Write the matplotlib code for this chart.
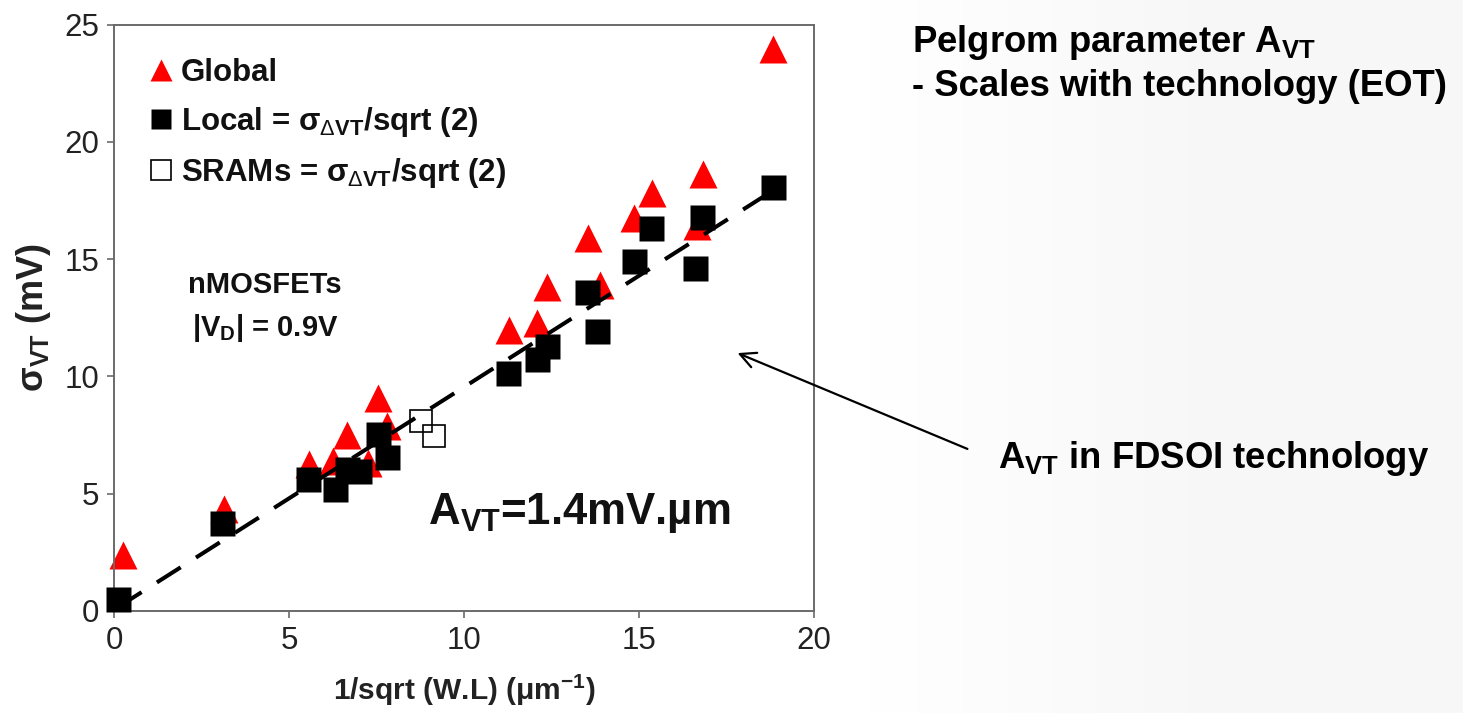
import matplotlib
matplotlib.use('Agg')
import numpy as np
import matplotlib.pyplot as plt
from matplotlib.lines import Line2D

plt.rcParams['font.family'] = ['Liberation Sans', 'DejaVu Sans']
plt.rcParams['mathtext.fontset'] = 'custom'
plt.rcParams['mathtext.rm'] = 'Liberation Sans'
plt.rcParams['mathtext.it'] = 'Liberation Sans'
plt.rcParams['mathtext.bf'] = 'Liberation Sans:bold'

# ---- data ----
global_x = [0.24, 3.13, 5.57, 6.25, 6.64, 7.25, 7.54, 7.78, 11.29, 12.07, 12.37,
            13.54, 13.88, 14.85, 15.35, 16.64, 16.83, 18.83]
global_y = [2.38, 4.36, 6.25, 6.40, 7.50, 6.30, 9.08, 7.90, 11.98, 12.27, 13.80,
            15.89, 13.90, 16.75, 17.83, 16.43, 18.64, 23.97]

local_x = [0.10, 3.09, 5.54, 6.31, 6.64, 7.00, 7.54, 7.78, 11.24, 12.07, 12.35,
           13.50, 13.80, 14.85, 15.34, 16.80, 16.60, 18.81]
local_y = [0.50, 3.73, 5.63, 5.19, 6.04, 5.97, 7.53, 6.54, 10.13, 10.73, 11.31,
           13.58, 11.95, 14.93, 16.32, 16.78, 14.61, 18.08]

sram_x = [8.76, 9.13]
sram_y = [8.09, 7.46]

fit_slope = 0.95
fit_intercept = 0.05
fit_range = [0.1, 18.8]

x_ticks = [0, 5, 10, 15, 20]
y_ticks = [0, 5, 10, 15, 20, 25]

W, H = 1463, 713
fig = plt.figure(figsize=(W / 100, H / 100), dpi=100)
fig.patch.set_facecolor('white')

# faint slide background on the right
bg = fig.add_axes([0, 0, 1, 1], zorder=-10)
bg.set_axis_off()
grad = np.linspace(0, 1, 400)
bg.imshow(np.clip((grad[None, :] - 0.58) / 0.25, 0, 1) * np.ones((10, 1)),
          extent=[0, 1, 0, 1], aspect='auto', cmap='Greys', vmin=0, vmax=16,
          origin='lower')
bg.set_xlim(0, 1)
bg.set_ylim(0, 1)

ax = fig.add_axes([114.3 / W, 1 - 610.7 / H, 700 / W, 585.9 / H])
ax.set_xlim(0, 20)
ax.set_ylim(0, 25)

ax.plot(global_x, global_y, ls='none', marker='^', ms=19.5, color='#ff0000',
        mec='none', zorder=2, clip_on=False)
fx = np.array(fit_range)
ax.plot(fx, fit_slope * fx + fit_intercept, color='black', lw=2.9,
        dashes=(7, 4.5), zorder=3)
ax.plot(local_x, local_y, ls='none', marker='s', ms=18, color='black',
        mec='none', zorder=4, clip_on=False)
ax.plot(sram_x, sram_y, ls='none', marker='s', ms=16.5, mfc='none',
        mec='black', mew=1.2, zorder=5)

spine_c = '#6a6a6a'
for s in ax.spines.values():
    s.set_color(spine_c)
    s.set_linewidth(1.4)
ax.set_xticks(x_ticks)
ax.set_yticks(y_ticks)
ax.tick_params(direction='out', length=5, width=1.2, color=spine_c,
               labelsize=22.5, pad=6, labelcolor='#222222')

ax.set_xlabel(r'1/sqrt (W.L) ($\mathregular{\mu}$m$^{\mathbf{-1}}$)',
              fontsize=21.5, fontweight='bold', labelpad=12, color='#222222')
ax.set_ylabel(r'$\mathregular{\sigma}_{\mathbf{VT}}$ (mV)', fontsize=26,
              fontweight='bold', labelpad=8, color='#222222')

handles = [
    Line2D([], [], ls='none', marker='^', ms=16.5, color='#ff0000', mec='none'),
    Line2D([], [], ls='none', marker='s', ms=14.5, color='black', mec='none'),
    Line2D([], [], ls='none', marker='s', ms=14.5, mfc='none', mec='black', mew=1.2),
]
labels = ['Global',
          r'Local = $\mathregular{\sigma}_{\Delta\mathbf{VT}}$/sqrt (2)',
          r'SRAMs = $\mathregular{\sigma}_{\Delta\mathbf{VT}}$/sqrt (2)']
leg = ax.legend(handles, labels, loc='upper left', bbox_to_anchor=(0.044, 0.944),
                frameon=False, borderpad=0, borderaxespad=0, handlelength=1.0,
                handletextpad=0.15, labelspacing=0.55,
                prop={'weight': 'bold', 'size': 22.5})
for t in leg.get_texts():
    t.set_color('#111111')

ax.text(4.3, 13.9, 'nMOSFETs', fontsize=21, fontweight='bold', ha='center',
        va='center', color='#111111')
ax.text(4.3, 12.05, r'|V$_\mathbf{D}$| = 0.9V', fontsize=21, fontweight='bold',
        ha='center', va='center', color='#111111')
ax.text(8.96, 4.17, r'A$_\mathbf{VT}$=1.4mV.µm', fontsize=31.5, fontweight='bold',
        ha='left', va='center', color='#111111')

fig.text(912 / W, 1 - 43 / H, r'Pelgrom parameter A$_\mathbf{VT}$', fontsize=26.3,
         fontweight='bold', ha='left', va='center')
fig.text(912 / W, 1 - 87 / H, '- Scales with technology (EOT)', fontsize=26.3,
         fontweight='bold', ha='left', va='center')
fig.text(998 / W, 1 - 458 / H, r'A$_\mathbf{VT}$ in FDSOI technology', fontsize=26.3,
         fontweight='bold', ha='left', va='center')

fig.add_artist(matplotlib.patches.FancyArrowPatch(
    (970 / W, 1 - 450 / H), (735 / W, 1 - 352 / H), transform=fig.transFigure,
    arrowstyle='->', mutation_scale=28, lw=1.6, color='black'))

fig.savefig('out.png', dpi=100)
